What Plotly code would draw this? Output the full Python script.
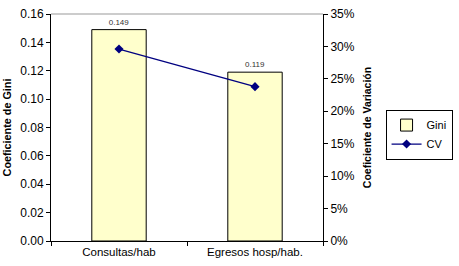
import plotly.graph_objects as go

categories = ["Consultas/hab", "Egresos hosp/hab."]
gini = [0.149, 0.119]
cv = [0.296, 0.238]
gini_labels = ["0.149", "0.119"]
gini_ticks = [0.00, 0.02, 0.04, 0.06, 0.08, 0.10, 0.12, 0.14, 0.16]
cv_ticks = [0.00, 0.05, 0.10, 0.15, 0.20, 0.25, 0.30, 0.35]

FONT = "Liberation Sans, Arial, sans-serif"

fig = go.Figure()
fig.add_trace(go.Bar(
    x=categories, y=gini, name="Gini",
    marker=dict(color="#FFFFCC", line=dict(color="black", width=1)),
    text=gini_labels, textposition="outside", cliponaxis=False,
    textfont=dict(size=8, color="#333333", family=FONT),
    yaxis="y",
))
fig.add_trace(go.Scatter(
    x=categories, y=cv, name="CV", mode="lines+markers",
    line=dict(color="#000080", width=1.3),
    marker=dict(symbol="diamond", size=7, color="#000080"),
    yaxis="y2",
))

fig.update_layout(
    width=459, height=266,
    margin=dict(l=51, r=130, t=7, b=25),
    paper_bgcolor="white", plot_bgcolor="white",
    font=dict(family=FONT, size=11, color="black"),
    bargap=0.6,
    showlegend=True,
    legend=dict(x=1.23, y=0.579, xanchor="left", yanchor="top",
                bordercolor="black", borderwidth=1, bgcolor="white",
                font=dict(size=11), tracegroupgap=0, itemwidth=30),
    xaxis=dict(type="category", showline=True, linecolor="black", linewidth=1,
               ticks="outside", ticklen=4, tickcolor="black",
               tickson="boundaries", showgrid=False,
               tickfont=dict(size=11.5)),
    yaxis=dict(range=[0, 0.16], tickvals=gini_ticks, tickformat=".2f",
               showline=True, linecolor="black", linewidth=1,
               ticks="outside", ticklen=4, tickcolor="black",
               showgrid=False, zeroline=False, tickfont=dict(size=12),
               ticklabeloverflow="allow",
               title=dict(text="<b>Coeficiente de Gini</b>", standoff=6,
                          font=dict(size=10.8))),
    yaxis2=dict(range=[0, 0.35], tickvals=cv_ticks, tickformat=".0%",
                overlaying="y", side="right",
                showline=True, linecolor="black", linewidth=1,
                ticks="outside", ticklen=4, tickcolor="black",
                showgrid=False, zeroline=False, tickfont=dict(size=12),
                ticklabeloverflow="allow",
                title=dict(text="<b>Coeficiente de Variación</b>", standoff=9,
                           font=dict(size=10.5))),
)
fig.add_shape(type="line", xref="paper", yref="paper", x0=0, x1=1, y0=1, y1=1,
              line=dict(color="#999999", width=1))

fig.write_html("out.html")
